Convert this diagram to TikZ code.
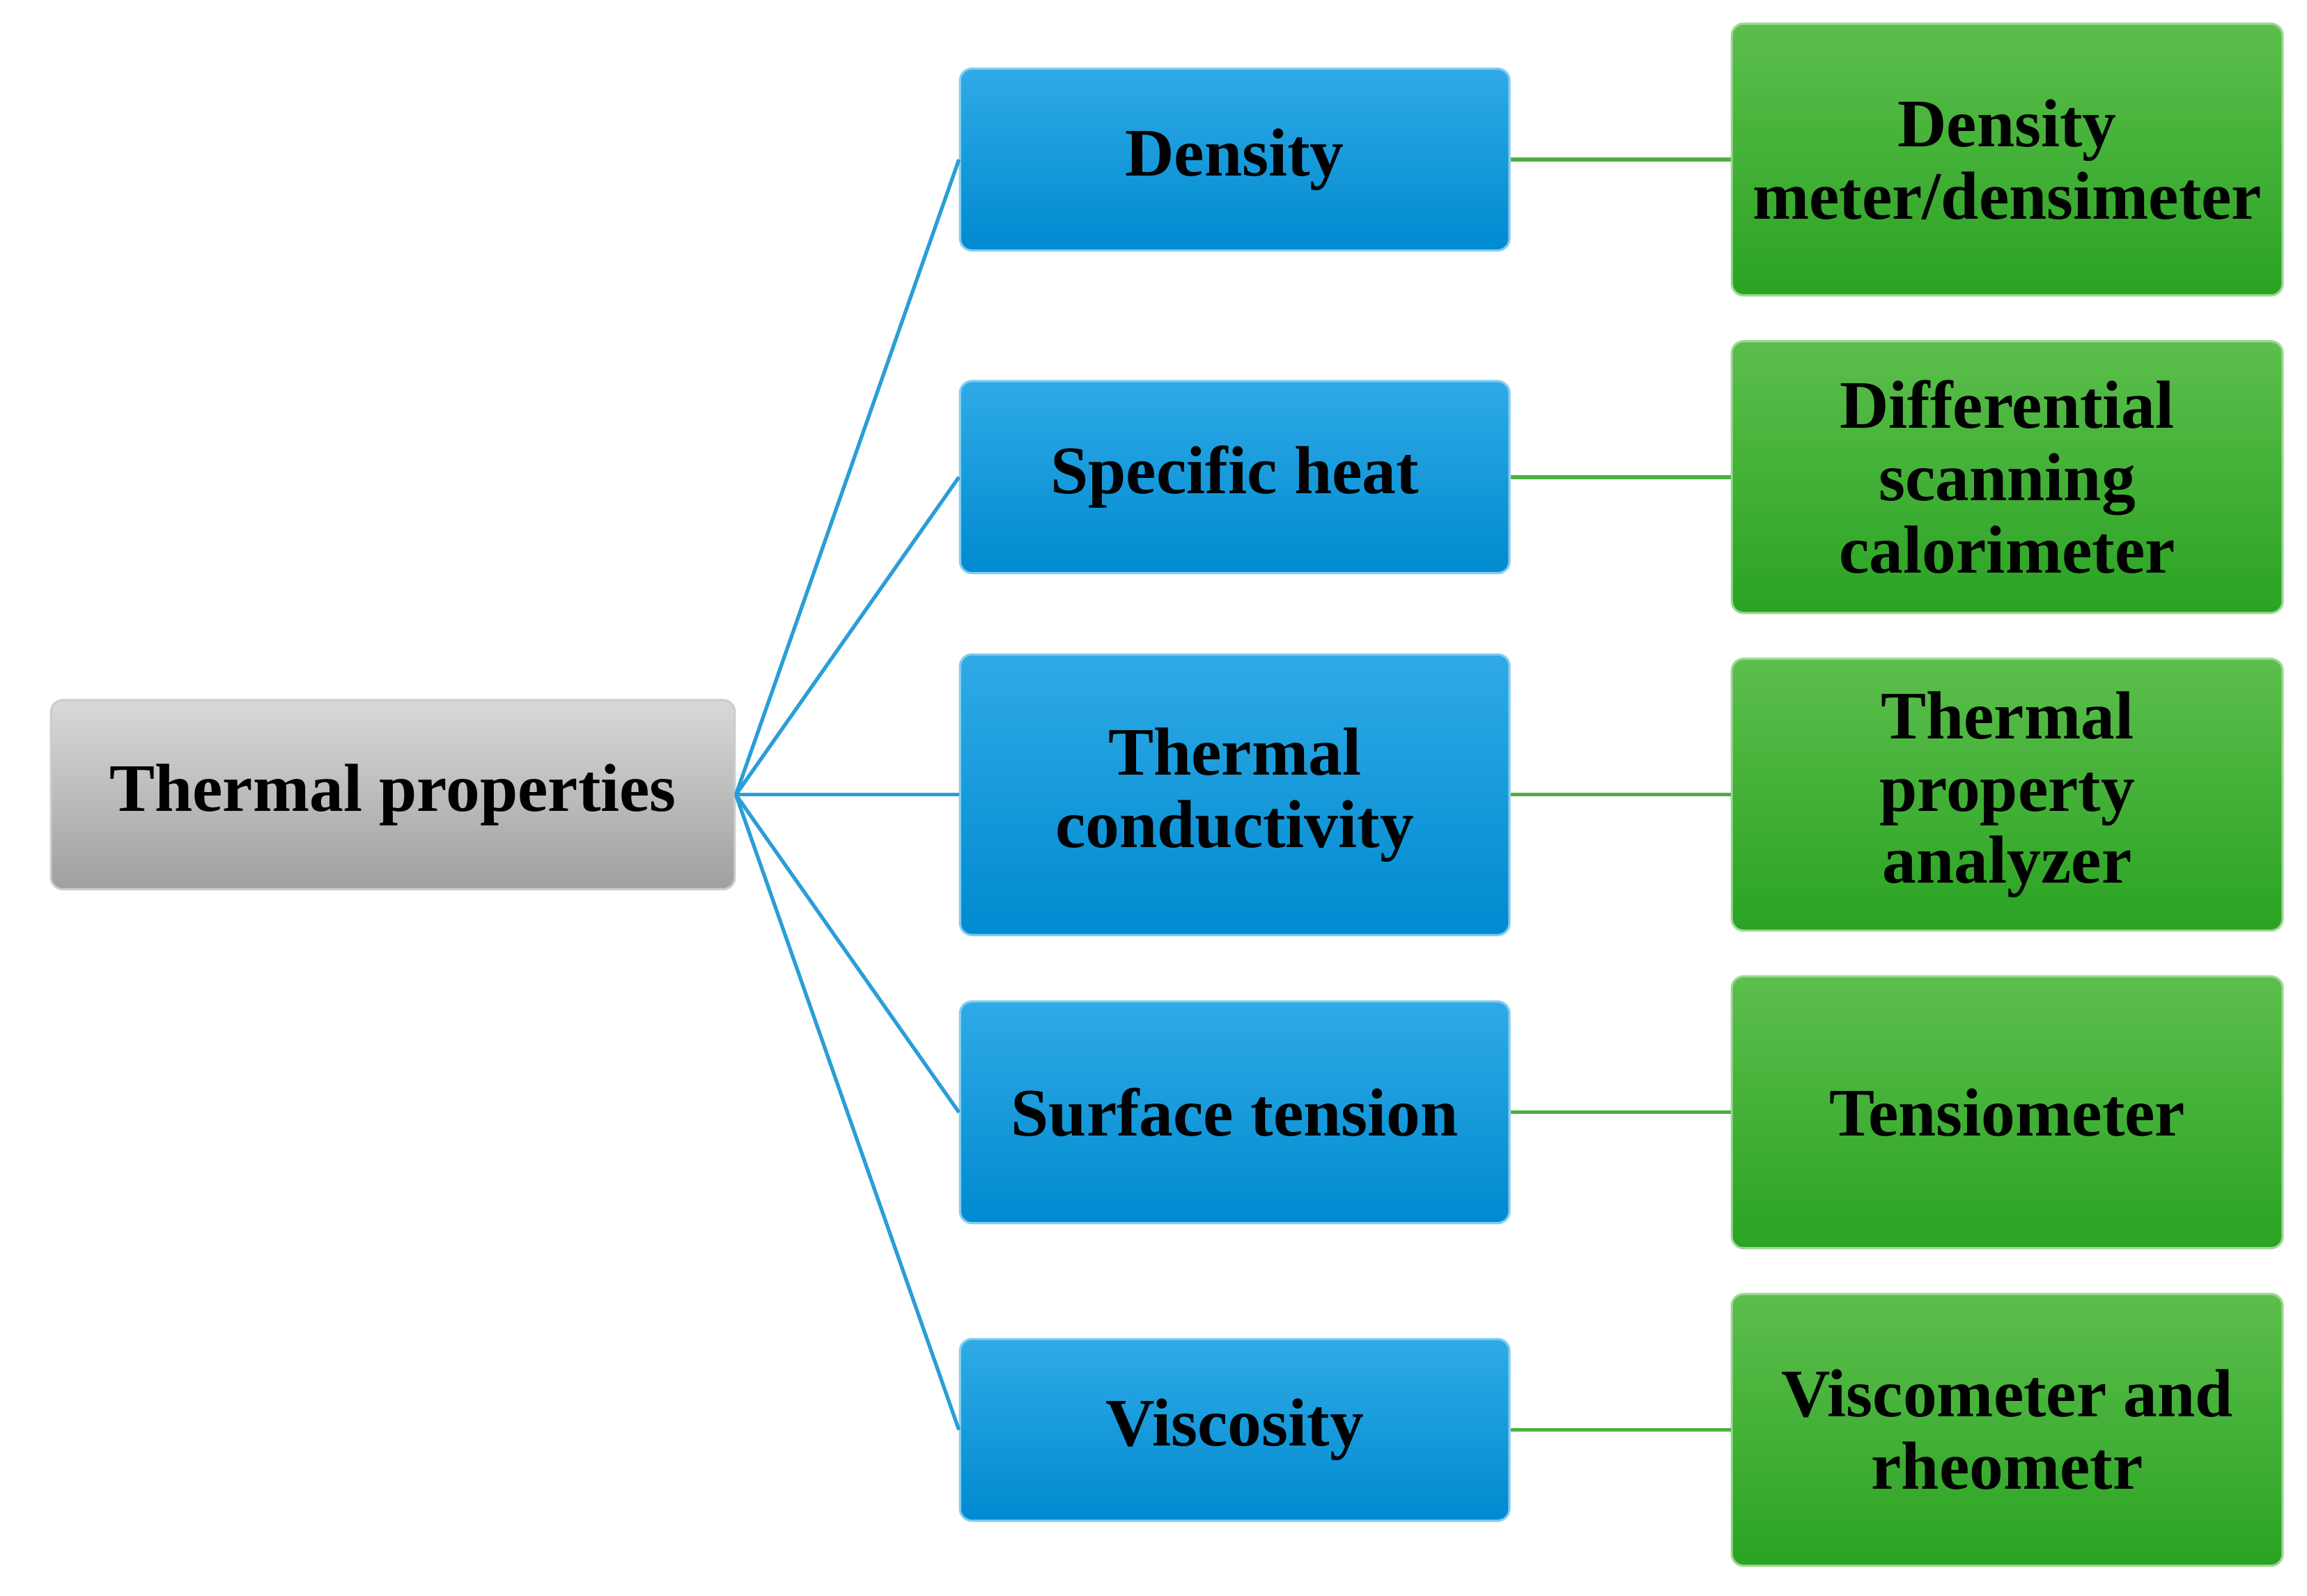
\documentclass[tikz,border=0pt]{standalone}
\usepackage{fontspec}
\setmainfont{Liberation Serif}
\definecolor{btop}{HTML}{2FAAE6}
\definecolor{bbot}{HTML}{008AD0}
\definecolor{gtop}{HTML}{5CBE4C}
\definecolor{gbot}{HTML}{2AA323}
\definecolor{bline}{HTML}{2A9ED8}
\definecolor{gline}{HTML}{4DB040}
\begin{document}
\begin{tikzpicture}[x=1pt,y=-1pt,
 box/.style={rounded corners=8pt,draw=#1,line width=1.5pt,align=center,
   font=\bfseries\fontsize{46}{50}\selectfont,inner sep=0pt},
 gray/.style={box=gray!40,top color=gray!30,bottom color=gray!75,minimum width=463pt,minimum height=128pt},
 blue/.style={box=btop!60!white,top color=btop,bottom color=bbot,minimum width=372pt},
 green/.style={box=gtop!60!white,top color=gtop,bottom color=gbot,minimum width=373pt,minimum height=184pt},
 bl/.style={draw=bline,line width=2.5pt},
 gl/.style={draw=gline,line width=2.5pt}]
\useasboundingbox (0,0) rectangle (1562,1080);
\node[gray] (t) at (266,538) {Thermal properties};
\node[blue,minimum height=123pt] (b1) at (836,108) {Density};
\node[blue,minimum height=130pt] (b2) at (836,323) {Specific heat};
\node[blue,minimum height=190pt] (b3) at (836,538) {Thermal\\[-1pt]conductivity};
\node[blue,minimum height=150pt] (b4) at (836,753) {Surface tension};
\node[blue,minimum height=123pt] (b5) at (836,968) {Viscosity};
\node[green] (g1) at (1359,108) {Density\\[-1pt]meter/densimeter};
\node[green] (g2) at (1359,323) {Differential\\[-1pt]scanning\\[-1pt]calorimeter};
\node[green] (g3) at (1359,538) {Thermal\\[-1pt]property\\[-1pt]analyzer};
\node[green] (g4) at (1359,753) {Tensiometer};
\node[green] (g5) at (1359,968) {Viscometer and\\[-1pt]rheometr};
\foreach \i in {1,...,5}{
 \draw[bl] (t.east) -- (b\i.west);
 \draw[gl] (b\i.east) -- (g\i.west);}
\end{tikzpicture}
\end{document}
